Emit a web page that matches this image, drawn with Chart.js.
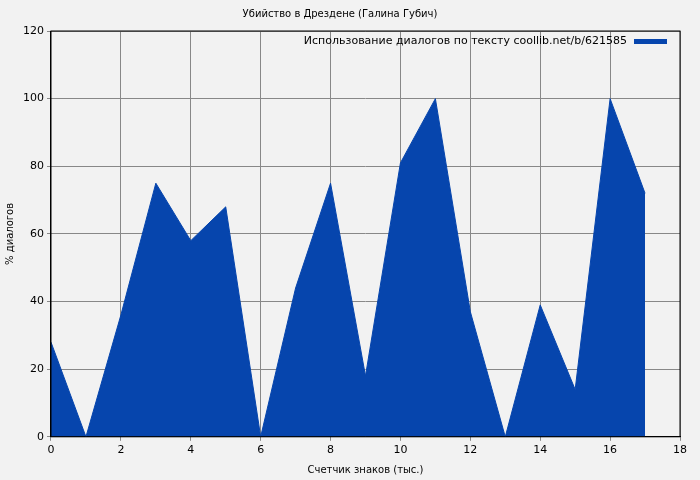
<!DOCTYPE html>
<html><head><meta charset="utf-8">
<script src="https://cdn.jsdelivr.net/npm/chart.js@4/dist/chart.umd.min.js"></script>
<style>html,body{margin:0;background:#f2f2f2}#wrap{width:700px;height:480px}</style>
</head><body><div id="wrap"><canvas id="c"></canvas></div>
<script>
const xs = [0,1,2,3,4,5,6,7,8,9,10,11,12,13,14,15,16,17];
const dialog = [28,0,36,75,58,68,0,44,75,18,81,100,37,0,39,14,100,72];
const seriesLabel = "Использование диалогов по тексту coollib.net/b/621585";
const fillColor = "#0645ad";

const legendBox = {
  id: "legendBox",
  afterDraw(chart) {
    const ctx = chart.ctx, a = chart.chartArea;
    ctx.save();
    ctx.font = "11px 'DejaVu Sans'";
    ctx.fillStyle = "#000";
    ctx.textAlign = "right";
    ctx.textBaseline = "middle";
    ctx.fillText(seriesLabel, a.right - 53, a.top + 10);
    ctx.fillStyle = fillColor;
    ctx.fillRect(a.right - 46, a.top + 8, 33, 5);
    ctx.restore();
  }
};

new Chart(document.getElementById("c"), {
  type: "line",
  data: {
    datasets: [{
      label: seriesLabel,
      data: xs.map((x, i) => ({x, y: dialog[i]})),
      fill: "origin",
      backgroundColor: fillColor,
      borderColor: fillColor,
      borderWidth: 1,
      pointRadius: 0,
      tension: 0
    }]
  },
  options: {
    responsive: true,
    maintainAspectRatio: false,
    animation: false,
    layout: {padding: {left: 0, right: 20, top: 0, bottom: 0}},
    plugins: {
      legend: {display: false},
      title: {display: true, text: "Убийство в Дрездене (Галина Губич)", color: "#000",
        font: {family: "DejaVu Sans", size: 10, weight: "normal"}, padding: {top: 8, bottom: 11}}
    },
    scales: {
      x: {
        type: "linear", min: 0, max: 18,
        ticks: {stepSize: 2, color: "#000", font: {family: "DejaVu Sans", size: 11}},
        grid: {color: "#888", borderDash: [2, 2], drawTicks: true, tickLength: 4},
        border: {color: "#000"},
        title: {display: true, text: "Счетчик знаков (тыс.)", color: "#000", font: {family: "DejaVu Sans", size: 10}}
      },
      y: {
        min: 0, max: 120,
        ticks: {stepSize: 20, color: "#000", font: {family: "DejaVu Sans", size: 11}},
        grid: {color: "#888", borderDash: [2, 2], tickLength: 4},
        border: {color: "#000"},
        title: {display: true, text: "% диалогов", color: "#000", font: {family: "DejaVu Sans", size: 10}}
      }
    }
  },
  plugins: [legendBox, {
    id: "frame",
    afterDraw(chart) {
      const ctx = chart.ctx, a = chart.chartArea;
      ctx.save(); ctx.strokeStyle = "#000"; ctx.lineWidth = 1;
      ctx.strokeRect(a.left, a.top, a.right - a.left, a.bottom - a.top);
      ctx.restore();
    }
  }]
});
</script></body></html>
